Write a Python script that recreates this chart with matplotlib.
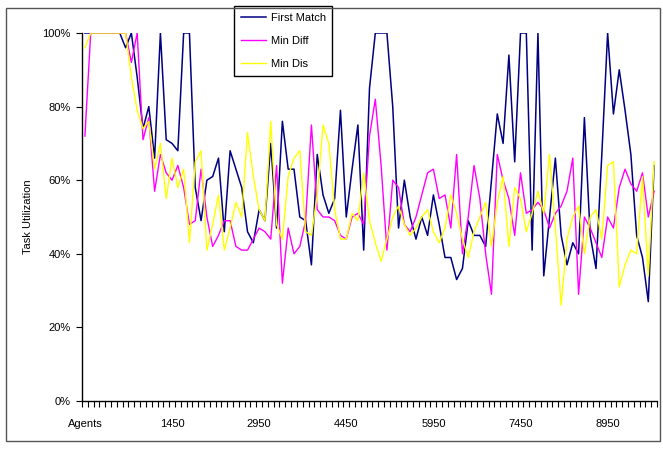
import numpy as np
import matplotlib.pyplot as plt
from matplotlib.ticker import PercentFormatter
from matplotlib.patches import Rectangle

plt.rcParams['font.family'] = ['Liberation Sans', 'DejaVu Sans']

# agent counts on the x axis (first cell is the header)
agents = ["Agents"] + [str(n) for n in range(50, 9800, 100)]

first_match = [100, 100, 100, 100, 100, 100, 100, 96, 100, 88,
               74, 80, 66, 100, 71, 70, 68, 100, 100, 58,
               49, 60, 61, 66, 46, 68, 63, 58, 46, 43,
               52, 49, 70, 47, 76, 63, 63, 50, 49, 37,
               67, 56, 51, 55, 79, 50, 63, 75, 41, 85,
               100, 100, 100, 80, 47, 60, 50, 44, 50, 45,
               56, 48, 39, 39, 33, 36, 49, 45, 45, 42,
               60, 78, 70, 94, 65, 100, 100, 41, 100, 34,
               50, 66, 45, 37, 43, 40, 77, 45, 36, 67,
               100, 78, 90, 79, 67, 45, 39, 27, 64]

min_diff = [72, 100, 100, 100, 100, 100, 100, 100, 92, 100,
            71, 77, 57, 67, 62, 60, 64, 58, 48, 49,
            63, 50, 42, 45, 49, 49, 42, 41, 41, 44,
            47, 46, 44, 64, 32, 47, 40, 42, 49, 75,
            52, 50, 50, 49, 45, 44, 50, 51, 48, 72,
            82, 64, 41, 60, 58, 48, 46, 50, 56, 62,
            63, 55, 56, 47, 67, 40, 50, 64, 55, 40,
            29, 67, 60, 55, 45, 62, 51, 52, 54, 52,
            47, 51, 53, 57, 66, 29, 50, 47, 43, 39,
            50, 47, 58, 63, 59, 57, 62, 50, 57]

min_dis = [96, 100, 100, 100, 100, 100, 100, 100, 88, 79,
           74, 76, 63, 70, 55, 66, 58, 63, 43, 65,
           68, 41, 48, 56, 41, 47, 54, 50, 73, 61,
           52, 49, 76, 48, 44, 61, 66, 68, 46, 45,
           56, 75, 70, 52, 44, 44, 51, 49, 62, 49,
           43, 38, 44, 50, 53, 48, 45, 47, 50, 52,
           46, 43, 47, 56, 51, 44, 39, 46, 50, 54,
           42, 54, 61, 42, 58, 55, 46, 51, 57, 51,
           67, 47, 26, 44, 50, 53, 40, 50, 52, 44,
           64, 65, 31, 37, 41, 40, 61, 34, 65]

fig = plt.figure(figsize=(6.63, 4.5), dpi=100)
ax = fig.add_axes([82 / 663, 49 / 450, 575 / 663, 368 / 450])

x = np.arange(len(agents))
ax.plot(x, first_match, color='#000080', lw=1.1, label='First Match')
ax.plot(x, min_diff, color='#ff00ff', lw=1.0, label='Min Diff')
ax.plot(x, min_dis, color='#ffff00', lw=1.0, label='Min Dis')

ax.set_xlim(-0.5, len(agents) - 0.5)
ax.set_ylim(0, 100)
ax.set_yticks([0, 20, 40, 60, 80, 100])
ax.yaxis.set_major_formatter(PercentFormatter(decimals=0))

# tick marks between categories, labels every 15th category
ax.set_xticks(np.arange(len(agents) + 1) - 0.5)
ax.set_xticklabels([])
ax.set_xticks(x[::15], minor=True)
ax.set_xticklabels(agents[::15], minor=True)
ax.tick_params(axis='x', which='major', length=4, direction='out', width=0.8)
ax.tick_params(axis='x', which='minor', length=0, pad=13, labelsize=8)
ax.tick_params(axis='y', length=4, direction='out', labelsize=8, pad=4)

for side in ['top', 'right']:
    ax.spines[side].set_visible(False)
for side in ['left', 'bottom']:
    ax.spines[side].set_linewidth(1.0)

fig.text(28 / 663, 1 - 217 / 450, 'Task Utilization', rotation=90,
         ha='center', va='center', fontsize=8)

leg = ax.legend(loc='upper left', bbox_to_anchor=(234 / 663, 1 - 6 / 450),
                bbox_transform=fig.transFigure, fancybox=False, edgecolor='black',
                framealpha=1, borderaxespad=0, fontsize=8, handlelength=2.3,
                labelspacing=1.2, borderpad=0.6, handletextpad=0.4)
leg.get_frame().set_linewidth(1.0)

fig.add_artist(Rectangle((6 / 663, 9 / 450), 654 / 663, 433 / 450,
                         transform=fig.transFigure, fill=False,
                         ec='#555555', lw=1.0))

fig.savefig('out.png', dpi=100)
